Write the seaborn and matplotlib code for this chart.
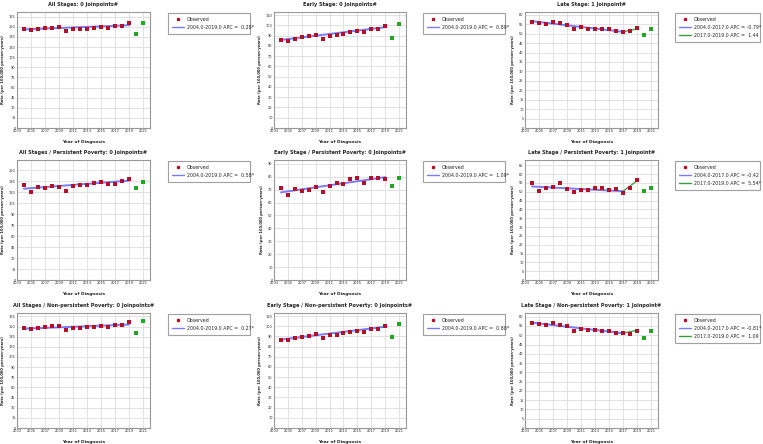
import numpy as np
import pandas as pd
import matplotlib
matplotlib.use("Agg")
import matplotlib.pyplot as plt
import seaborn as sns
from matplotlib.lines import Line2D

# ---- data ----
YEARS_OBS = list(range(2004, 2020))
YEARS_NEW = [2020, 2021]

TITLES = [
    "All Stages: 0 Joinpoints#",
    "Early Stage: 0 Joinpoints#",
    "Late Stage: 1 Joinpoint#",
    "All Stages / Persistent Poverty: 0 Joinpoints#",
    "Early Stage / Persistent Poverty: 0 Joinpoints#",
    "Late Stage / Persistent Poverty: 1 Joinpoint#",
    "All Stages / Non-persistent Poverty: 0 Joinpoints#",
    "Early Stage / Non-persistent Poverty: 0 Joinpoints#",
    "Late Stage / Non-persistent Poverty: 1 Joinpoint#",
]

obs_all = [147.5, 145, 146.5, 148.5, 149, 149.5, 144, 147, 146.5, 147.5, 149, 150, 149, 150.5, 151, 155]
obs_early = [85.3, 85, 86.7, 88.3, 89.3, 91, 87, 89.7, 90.7, 91.7, 93.3, 94.3, 93.7, 96, 96, 99.3]
obs_late = [56.4, 55.7, 55.4, 56.1, 55.7, 54.8, 52.5, 53.6, 52.7, 52.7, 52.7, 52.3, 51.4, 50.9, 51.3, 53]
obs_all_pp = [130.3, 120.4, 126.5, 125.1, 128.4, 127, 122.3, 128, 129.8, 130.3, 133.1, 133.6, 131.7, 131.2, 135.5, 138.3]
obs_early_pp = [71.1, 65.8, 70.6, 69.2, 69.8, 71.9, 68.2, 72.5, 74.9, 74.1, 78.1, 79.2, 75.2, 78.9, 78.7, 78.4]
obs_late_pp = [55, 50.6, 52.4, 52.8, 55, 51.4, 49.6, 51, 50.8, 52.4, 52, 51, 51.6, 49.2, 52.4, 56.6]
obs_all_np = [147.4, 146, 147.4, 150, 150.5, 151, 145, 148, 147.4, 149, 150, 151.5, 150, 152, 152, 156.7]
obs_early_np = [86.7, 86, 88, 89.3, 90.7, 92.3, 88.3, 91, 91.7, 93, 94.3, 95.7, 94.7, 97.7, 97, 100.7]
obs_late_np = [56.5, 56, 55.6, 56.4, 55.8, 55.1, 52.5, 53.6, 52.7, 52.7, 52.4, 52.4, 51.3, 51.1, 50.9, 52.5]

new_vals = [
    [140, 156], [87.7, 101], [49.1, 52.7],
    [125.6, 133.6], [73, 79.2], [50.4, 52],
    [140.2, 157.7], [89, 102.3], [48.7, 52.5],
]

# joinpoint segments: (start year, end year, start value, end value)
seg1 = [(2004, 2019, 146.2, 152.4)]
seg2 = [(2004, 2019, 85.8, 98.2)]
seg3 = [(2004, 2017, 56.6, 51.0), (2017, 2019, 51.0, 52.5)]
seg4 = [(2004, 2019, 124.8, 135.8)]
seg5 = [(2004, 2019, 67.9, 79.7)]
seg6 = [(2004, 2017, 53.0, 50.3), (2017, 2019, 50.3, 56.2)]
seg7 = [(2004, 2019, 146.8, 152.9)]
seg8 = [(2004, 2019, 86.9, 99.5)]
seg9 = [(2004, 2017, 56.8, 51.1), (2017, 2019, 51.1, 52.7)]

APC_LABELS = [
    ["2004.0-2019.0 APC =  0.28*"],
    ["2004.0-2019.0 APC =  0.89*"],
    ["2004.0-2017.0 APC = -0.79*", "2017.0-2019.0 APC =  1.44"],
    ["2004.0-2019.0 APC =  0.58*"],
    ["2004.0-2019.0 APC =  1.09*"],
    ["2004.0-2017.0 APC = -0.42", "2017.0-2019.0 APC =  5.54*"],
    ["2004.0-2019.0 APC =  0.27*"],
    ["2004.0-2019.0 APC =  0.88*"],
    ["2004.0-2017.0 APC = -0.81*", "2017.0-2019.0 APC =  1.09"],
]

YTICK_STEP = [15, 10, 5, 15, 10, 5, 15, 10, 5]
YTICK_MAX = [165, 110, 60, 150, 90, 65, 165, 110, 60]
YLIM_TOP = [172, 113, 61.5, 164, 93, 68, 170, 113, 62]

observed = [obs_all, obs_early, obs_late, obs_all_pp, obs_early_pp, obs_late_pp,
            obs_all_np, obs_early_np, obs_late_np]
segments = [seg1, seg2, seg3, seg4, seg5, seg6, seg7, seg8, seg9]

RED = "#b3102a"
GREEN = "#23a623"
BLUE = "#7b7bff"
DGREEN = "#3c9a3c"

sns.set_theme(style="whitegrid")
plt.rcParams["font.family"] = ["DejaVu Sans"]
plt.rcParams["grid.color"] = "#dddddd"
plt.rcParams["grid.linewidth"] = 0.6

W, H = 763, 444
fig = plt.figure(figsize=(W / 100, H / 100), dpi=100)
fig.patch.set_facecolor("white")

COL_AX = [(17, 150), (274, 406), (525, 658)]
COL_LEG = [(166, 252), (421, 507), (673, 762)]
ROW_AX = [(12, 128), (160, 280), (313, 428)]

for i in range(9):
    r, c = divmod(i, 3)
    x0, x1 = COL_AX[c]
    y0, y1 = ROW_AX[r]
    ax = fig.add_axes([x0 / W, 1 - y1 / H, (x1 - x0) / W, (y1 - y0) / H])

    df_obs = pd.DataFrame({"year": YEARS_OBS, "rate": observed[i]})
    df_new = pd.DataFrame({"year": YEARS_NEW, "rate": new_vals[i]})

    seg_colors = [BLUE, DGREEN]
    for k, (ya, yb, va, vb) in enumerate(segments[i]):
        df_seg = pd.DataFrame({"year": [ya, yb], "rate": [va, vb]})
        sns.lineplot(data=df_seg, x="year", y="rate", ax=ax, color=seg_colors[k],
                     lw=1.4 if k == 0 else 0.9, zorder=2)

    sns.scatterplot(data=df_obs, x="year", y="rate", ax=ax, color=RED, marker="s",
                    s=6, linewidth=0, zorder=3)
    sns.scatterplot(data=df_new, x="year", y="rate", ax=ax, color=GREEN, marker="s",
                    s=6, linewidth=0, zorder=3)

    ax.set_xlim(2003, 2022)
    ax.set_xticks(range(2003, 2022, 2))
    ax.set_ylim(0, YLIM_TOP[i])
    ax.set_yticks(np.arange(0, YTICK_MAX[i] + 0.1, YTICK_STEP[i]))
    ax.tick_params(axis="both", labelsize=2.5, pad=1, length=0)
    for sp in ax.spines.values():
        sp.set_color("#999999")
        sp.set_linewidth(0.8)
    ax.set_title(TITLES[i], fontsize=3.6, fontweight="bold", pad=4)
    ax.set_xlabel("Year of Diagnosis", fontsize=3.2, fontweight="bold", labelpad=5)
    ax.set_ylabel("Rate (per 100,000 person-years)", fontsize=2.7, fontweight="bold", labelpad=3)

    handles = [Line2D([], [], ls="none", marker="s", markersize=1.4, color=RED, mec=RED)]
    for k, lab in enumerate(APC_LABELS[i]):
        handles.append(Line2D([], [], color=seg_colors[k], lw=1.0))
    labels = ["Observed"] + APC_LABELS[i]
    lx0, lx1 = COL_LEG[c]
    leg = ax.legend(handles, labels, loc="upper left",
                    bbox_to_anchor=(lx0 / W, 1 - (y0 - 1) / H, (lx1 - lx0) / W, 0.0),
                    bbox_transform=fig.transFigure, mode="expand", fontsize=3.4,
                    frameon=True, fancybox=False, handlelength=2.6, borderpad=0.8,
                    labelspacing=0.6, handletextpad=0.5)
    leg.get_frame().set_edgecolor("#888888")
    leg.get_frame().set_linewidth(0.8)

fig.savefig("out.png", dpi=100, facecolor="white")
